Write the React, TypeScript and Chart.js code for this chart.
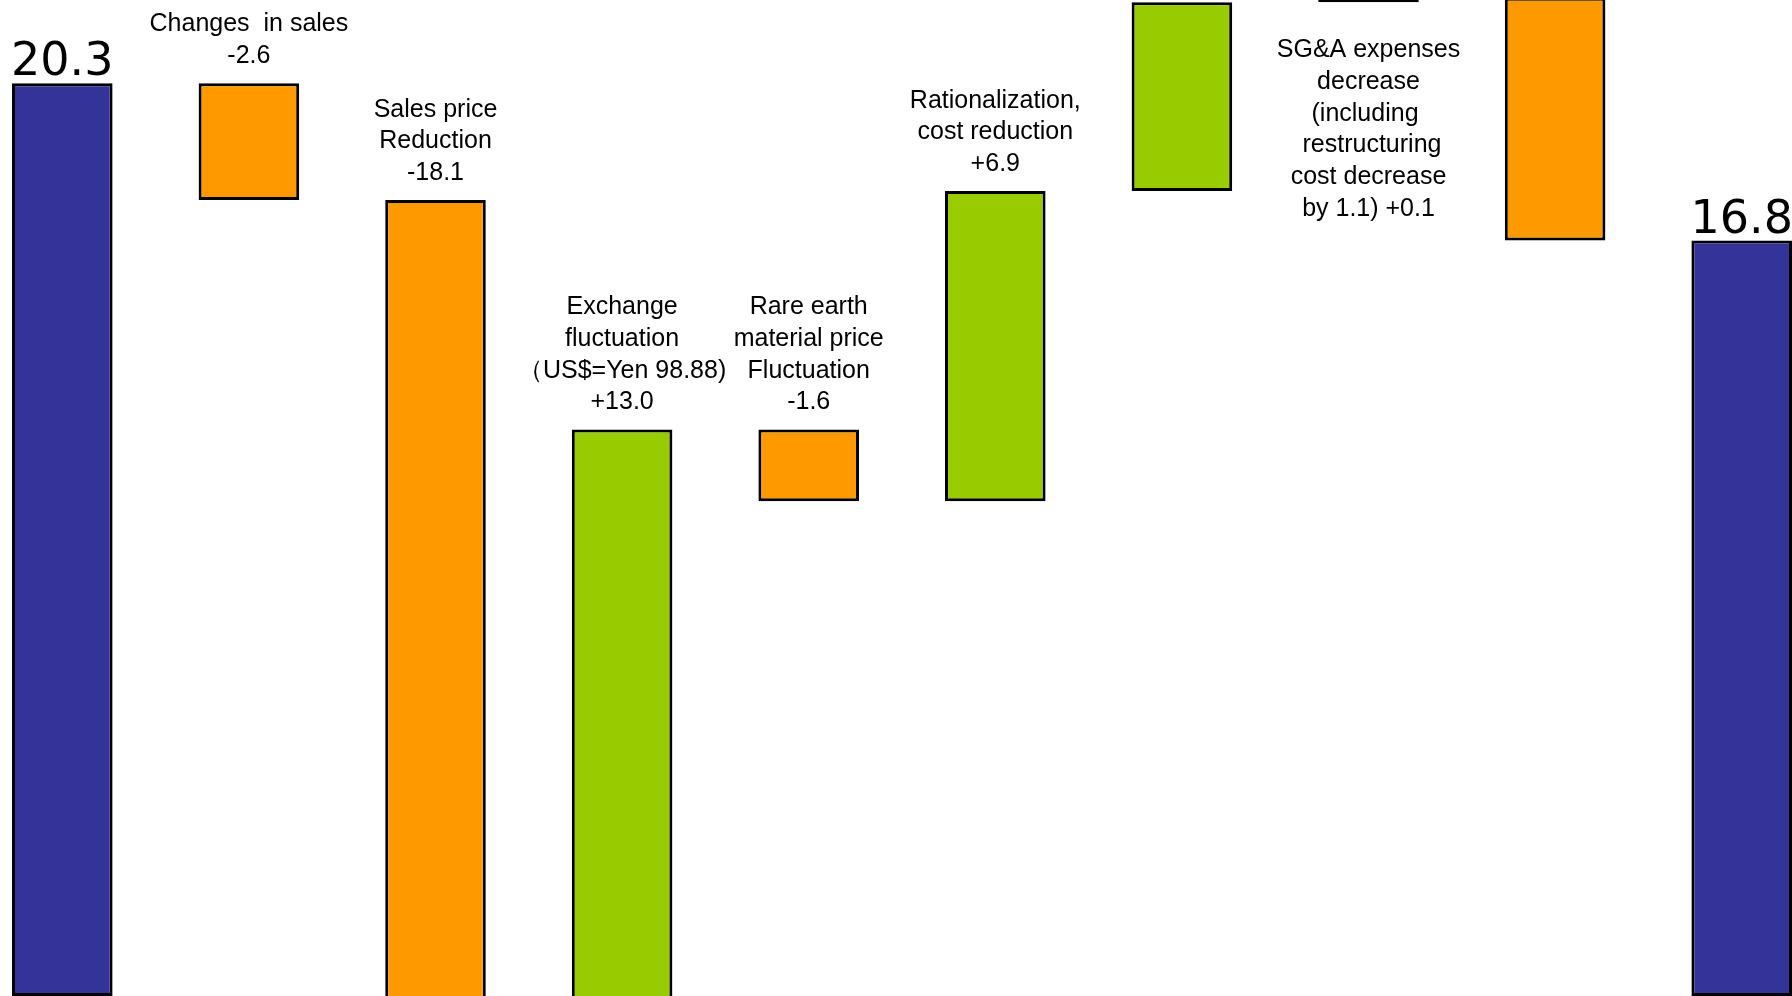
import { useEffect, useRef } from "react";
import { Chart, registerables } from "chart.js";

Chart.register(...registerables);

// Operating income bridge between two periods (billion yen)
const categories = [
  "Previous period",
  "Changes in sales",
  "Sales price reduction",
  "Exchange fluctuation",
  "Rare earth material price fluctuation",
  "Rationalization, cost reduction",
  "Other increase",
  "SG&A expenses decrease",
  "Other decrease",
  "Current period",
];
const openingTotal = 20.3;
const closingTotal = 16.8;
// Changes between the two totals, one per middle category
const changes = [-2.6, -18.1, 13.0, -1.6, 6.9, 4.2, 0.1, -5.4];

// Caption lines written over (or under) each bar; the value is appended from the data
const captions: string[][] = [
  [],
  ["Changes  in sales"],
  ["Sales price", "Reduction"],
  ["Exchange", "fluctuation", "\uFF08US$=Yen 98.88)"],
  ["Rare earth", "material price", "Fluctuation"],
  ["Rationalization,", "cost reduction"],
  [],
  ["SG&A expenses", "decrease", "(including ", " restructuring", "cost decrease", "by 1.1)"],
  [],
  [],
];
// Captions drawn below their bar instead of above it
const captionsBelow = [7];

const COLOR_TOTAL = "#333399";
const COLOR_UP = "#99CC00";
const COLOR_DOWN = "#FF9900";

const SMALL_FONT = '25px "Liberation Sans", Arial, sans-serif';
const BIG_FONT = '46px "DejaVu Sans", sans-serif';
const LINE_HEIGHT = 31.7;

function signed(v: number): string {
  return (v > 0 ? "+" : "") + v.toFixed(1);
}

// Floating [start, end] ranges for the waterfall
function buildRanges(): [number, number][] {
  const ranges: [number, number][] = [[0, openingTotal]];
  let level = openingTotal;
  changes.forEach((c) => {
    const next = Math.round((level + c) * 10) / 10;
    ranges.push([level, next]);
    level = next;
  });
  ranges.push([0, closingTotal]);
  return ranges;
}

function barColor(i: number): string {
  if (i === 0 || i === categories.length - 1) return COLOR_TOTAL;
  return changes[i - 1] >= 0 ? COLOR_UP : COLOR_DOWN;
}

const labelPlugin = {
  id: "bridgeLabels",
  afterDatasetsDraw(chart: any) {
    const { ctx } = chart;
    const meta = chart.getDatasetMeta(0);
    const yScale = chart.scales.y;
    const ranges = chart.data.datasets[0].data as [number, number][];
    ctx.save();
    ctx.fillStyle = "#000";
    ctx.textAlign = "center";
    ctx.textBaseline = "alphabetic";
    ranges.forEach((r, i) => {
      const x = meta.data[i].x;
      const top = yScale.getPixelForValue(Math.max(r[0], r[1]));
      const bottom = yScale.getPixelForValue(Math.min(r[0], r[1]));
      const isTotal = i === 0 || i === ranges.length - 1;
      if (isTotal) {
        ctx.font = BIG_FONT;
        ctx.fillText(r[1].toFixed(1), x, top - 8);
        return;
      }
      ctx.font = SMALL_FONT;
      const value = signed(changes[i - 1]);
      const lines = [...captions[i]];
      if (captionsBelow.includes(i) && lines.length) {
        lines[lines.length - 1] = lines[lines.length - 1] + " " + value;
        lines.forEach((line, k) => ctx.fillText(line, x, bottom + 55 + k * LINE_HEIGHT));
      } else {
        lines.push(value);
        const n = lines.length;
        lines.forEach((line, k) =>
          ctx.fillText(line, x, top - 20 - (n - 1 - k) * LINE_HEIGHT)
        );
      }
    });
    ctx.restore();
  },
};

export default function App() {
  const canvasRef = useRef<HTMLCanvasElement | null>(null);

  useEffect(() => {
    if (!canvasRef.current) return;
    const ranges = buildRanges();
    const chart = new Chart(canvasRef.current, {
      type: "bar",
      data: {
        labels: categories,
        datasets: [
          {
            data: ranges as any,
            backgroundColor: categories.map((_, i) => barColor(i)),
            borderColor: "#000",
            borderWidth: 3,
            borderSkipped: false,
            categoryPercentage: 1,
            barPercentage: 0.539,
          },
        ],
      },
      options: {
        animation: false,
        responsive: true,
        maintainAspectRatio: false,
        layout: { padding: 0 },
        plugins: {
          legend: { display: false },
          tooltip: { enabled: false },
        },
        scales: {
          x: { display: false, grid: { display: false } },
          y: { display: false, min: 0, max: 22.15, grid: { display: false } },
        },
      },
      plugins: [labelPlugin],
    });
    return () => chart.destroy();
  }, []);

  return (
    <div
      style={{
        position: "fixed",
        left: 0,
        top: 0,
        width: 1792,
        height: 996,
        overflow: "hidden",
        background: "#fff",
      }}
    >
      <div style={{ position: "absolute", left: -31, top: 0, width: 1866, height: 996 }}>
        <canvas ref={canvasRef} />
      </div>
    </div>
  );
}
